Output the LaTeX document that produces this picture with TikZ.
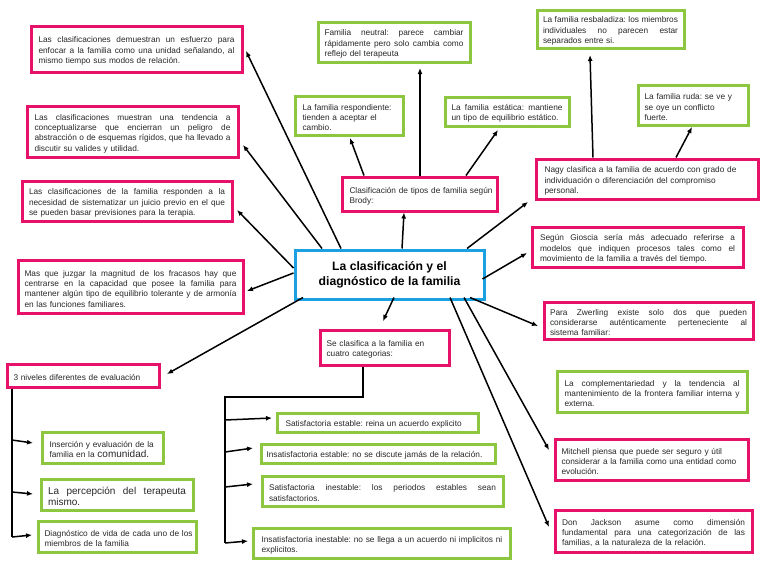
\documentclass[tikz,border=0pt]{standalone}
\usepackage{fontspec}
\setmainfont{Liberation Sans}
\usetikzlibrary{calc,arrows.meta}
\definecolor{pinkc}{RGB}{232,17,106}
\definecolor{greenc}{RGB}{141,198,63}
\definecolor{bluec}{RGB}{27,161,226}
\definecolor{txtc}{RGB}{40,40,40}
\frenchspacing
\newcommand\Jline[1]{\par\noindent\hbox to\hsize{\spaceskip=0.278em plus 1fil minus 0.04em\relax\xspaceskip=\spaceskip #1}\par}
\newcommand\Rline[1]{\par\noindent\hbox{#1}\par}
\tikzset{
 boxbase/.style={rectangle, anchor=north west, line width=3pt, fill=white, text=txtc, inner ysep=1pt, font=\fontsize{8.3}{10.3}\selectfont},
 pbox/.style={boxbase, draw=pinkc},
 gbox/.style={boxbase, draw=greenc},
 cbox/.style={boxbase, draw=bluec, text=black, align=center, font=\bfseries\fontsize{12.2}{15}\selectfont},
 arr/.style={line width=1.5pt, -{Latex[length=6pt,width=5pt]}, black},
 trunk/.style={line width=1.6pt, black},
}
\begin{document}
\begin{tikzpicture}[x=1pt,y=-1pt]
\fill[white] (0,0) rectangle (768,574);
\useasboundingbox (0,0) rectangle (768,574);

% centre
\node[cbox, minimum width=189pt, minimum height=49pt] (c) at (293.5,248.5) {La clasificación y el\\diagnóstico de la familia};

% left pink boxes
\node[pbox, text width=196pt, inner xsep=7.5pt, minimum height=46pt] (b1) at (29.5,24.5) {%
\Jline{Las clasificaciones demuestran un esfuerzo para}
\Jline{enfocar a la familia como una unidad señalando, al}
\Rline{mismo tiempo sus modos de relación.}};
\node[pbox, text width=196pt, inner xsep=7.5pt, minimum height=51pt] (b2) at (25.5,104.5) {%
\Jline{Las clasificaciones muestran una tendencia a}
\Jline{conceptualizarse que encierran un peligro de}
\Jline{abstracción o de esquemas rígidos, que ha llevado a}
\Rline{discutir su valides y utilidad.}};
\node[pbox, text width=196pt, inner xsep=7pt, minimum height=40pt] (b3) at (20.5,179.5) {%
\Jline{Las clasificaciones de la familia responden a la}
\Jline{necesidad de sistematizar un juicio previo en el que}
\Rline{se pueden basar previsiones para la terapia.}};
\node[pbox, text width=212pt, inner xsep=6.5pt, minimum height=53pt] (b4) at (16.5,258.5) {%
\Jline{Mas que juzgar la magnitud de los fracasos hay que}
\Jline{centrarse en la capacidad que posee la familia para}
\Jline{mantener algún tipo de equilibrio tolerante y de armonía}
\Rline{en las funciones familiares.}};
\node[pbox, text width=139pt, inner xsep=6.5pt, minimum height=23pt] (b5) at (5.5,362.5) {%
\Rline{3 niveles diferentes de evaluación}};

% three levels
\node[gbox, text width=106pt, inner xsep=7.5pt, minimum height=31pt] (g6) at (40.5,430.5) {%
\Rline{Inserción y evaluación de la}
\Rline{familia en la {\fontsize{10}{11}\selectfont comunidad.}}};
\node[gbox, text width=138pt, inner xsep=7pt, minimum height=31pt, font=\fontsize{10}{11.5}\selectfont] (g7) at (39.5,477.5) {%
\Jline{La percepción del terapeuta}
\Rline{mismo.}};
\node[gbox, text width=145pt, inner xsep=6.5pt, minimum height=31pt] (g8) at (36.5,519.5) {%
\Rline{Diagnóstico de vida de cada uno de los}
\Rline{miembros de la familia}};

% four categories
\node[pbox, text width=116pt, inner xsep=6.5pt, minimum height=35pt] (p25) at (318.5,328.5) {%
\Rline{Se clasifica a la familia en}
\Rline{cuatro categorias:}};
\node[gbox, text width=184pt, inner xsep=8.5pt, minimum height=19pt] (g9) at (275.5,411.5) {%
\Rline{Satisfactoria estable: reina un acuerdo explicito}};
\node[gbox, text width=223pt, inner xsep=5.5pt, minimum height=19pt] (g10) at (259.5,442.5) {%
\Rline{Insatisfactoria estable: no se discute jamás de la relación.}};
\node[gbox, text width=227pt, inner xsep=7pt, minimum height=30pt] (g11) at (260.5,474.5) {%
\Jline{Satisfactoria inestable: los periodos estables sean}
\Rline{satisfactorios.}};
\node[gbox, text width=240pt, inner xsep=8.5pt, minimum height=30pt] (g12) at (251.5,526.5) {%
\Rline{Insatisfactoria inestable: no se llega a un acuerdo ni implicitos ni}
\Rline{explicitos.}};

% Brody
\node[gbox, text width=139pt, inner xsep=6.5pt, minimum height=40pt] (g13) at (316.5,20.5) {%
\Jline{Familia neutral: parece cambiar}
\Jline{rápidamente pero solo cambia como}
\Rline{reflejo del terapeuta}};
\node[gbox, text width=93pt, inner xsep=7.5pt, minimum height=39pt] (g14) at (293.5,94.5) {%
\Rline{La familia respondiente:}
\Rline{tienden a aceptar el}
\Rline{cambio.}};
\node[gbox, text width=111pt, inner xsep=6.5pt, minimum height=29pt] (g15) at (443.5,95.5) {%
\Jline{La familia estática: mantiene}
\Rline{un tipo de equilibrio estático.}};
\node[pbox, text width=140pt, inner xsep=7.5pt, minimum height=34pt] (p16) at (340.5,175.5) {%
\Rline{Clasificación de tipos de familia según}
\Rline{Brody:}};

% Nagy
\node[gbox, text width=135pt, inner xsep=6pt, minimum height=38pt] (g17) at (535.5,8.5) {%
\Jline{La familia resbaladiza: los miembros}
\Jline{individuales no parecen estar}
\Rline{separados entre si.}};
\node[gbox, text width=97pt, inner xsep=6.5pt, minimum height=40pt] (g18) at (636.5,83.5) {%
\Rline{La familia ruda: se ve y}
\Rline{se oye un conflicto}
\Rline{fuerte.}};
\node[pbox, text width=205pt, inner xsep=8.5pt, minimum height=40pt] (p19) at (534.5,157.5) {%
\Rline{Nagy clasifica a la familia de acuerdo con grado de}
\Rline{individuación o diferenciación del compromiso}
\Rline{personal.}};

% right column
\node[pbox, text width=195pt, inner xsep=8pt, minimum height=40pt] (p20) at (530.5,225.5) {%
\Jline{Según Gioscia sería más adecuado referirse a}
\Jline{modelos que indiquen procesos tales como el}
\Rline{movimiento de la familia a través del tiempo.}};
\node[pbox, text width=197pt, inner xsep=6pt, minimum height=37pt] (p21) at (542.5,300.5) {%
\Jline{Para Zwerling existe solo dos que pueden}
\Jline{considerarse auténticamente perteneciente al}
\Rline{sistema familiar:}};
\node[gbox, text width=175pt, inner xsep=7.5pt, minimum height=41pt] (g22) at (555.5,369.5) {%
\Jline{La complementariedad y la tendencia al}
\Jline{mantenimiento de la frontera familiar interna y}
\Rline{externa.}};
\node[pbox, text width=180pt, inner xsep=6.5pt, minimum height=41pt] (p23) at (553.5,437.5) {%
\Rline{Mitchell piensa que puede ser seguro y útil}
\Rline{considerar a la familia como una entidad como}
\Rline{evolución.}};
\node[pbox, text width=183pt, inner xsep=7pt, minimum height=42pt] (p24) at (553.5,508.5) {%
\Jline{Don Jackson asume como dimensión}
\Jline{fundamental para una categorización de las}
\Rline{familias, a la naturaleza de la relación.}};

% connectors from centre
\draw[arr] ($(c.north west)+(47.5,0)$) -- ($(b1.north west)+(216.5,26.5)$);
\draw[arr] ($(c.north west)+(28.5,0)$) -- ($(b2.north west)+(217.5,40.5)$);
\draw[arr] ($(c.north west)+(0,19.5)$) -- ($(b3.north west)+(216.5,30.5)$);
\draw[arr] ($(c.north west)+(0,24.5)$) -- ($(b4.north west)+(230.5,32.5)$);
\draw[arr] ($(c.north west)+(9.5,49)$) -- ($(b5.north west)+(161.5,11.5)$);
\draw[arr] ($(c.north west)+(100.5,49)$) -- ($(p25.north west)+(64.5,-7.5)$);
\draw[arr] ($(c.north west)+(108.5,0)$) -- ($(p16.north west)+(63.5,37)$);
\draw[arr] ($(c.north west)+(173.5,0)$) -- ($(p19.north west)+(-6.5,44.5)$);
\draw[arr] ($(c.north west)+(189,30.5)$) -- ($(p20.north west)+(-3.5,27.5)$);
\draw[arr] ($(c.north west)+(176.5,49)$) -- ($(p21.north west)+(-4.5,25.5)$);
\draw[arr] ($(c.north west)+(170.5,49)$) -- ($(p23.north west)+(-4.5,12.5)$);
\draw[arr] ($(c.north west)+(156.5,49)$) -- ($(p24.north west)+(-4.5,18.5)$);

% Brody branches
\draw[arr] ($(p16.north west)+(79.5,0)$) -- ($(g13.north west)+(103.5,47.5)$);
\draw[arr] ($(p16.north west)+(23.5,0)$) -- ($(g14.north west)+(56.5,43.5)$);
\draw[arr] ($(p16.north west)+(125.5,0)$) -- ($(g15.north west)+(54.5,34.5)$);

% Nagy branches
\draw[arr] ($(p19.north west)+(58.5,0)$) -- ($(g17.north west)+(54.5,46.5)$);
\draw[arr] ($(p19.north west)+(141.5,0)$) -- ($(g18.north west)+(55.5,43.5)$);

% four categories tree
\coordinate (k1) at (363,397);
\coordinate (k2) at (225,397);
\coordinate (k3) at (225,543);
\coordinate (k9) at (225,420);
\coordinate (k10) at (225,452);
\coordinate (k11) at (225,487);
\draw[trunk] ($(p25.south west)+(44.5,0)$) -- (k1) -- (k2) -- (k3);
\draw[arr] (k9) -- ($(g9.north west)+(-3.5,6.5)$);
\draw[arr] (k10) -- ($(g10.north west)+(-6.5,5.5)$);
\draw[arr] (k11) -- ($(g11.north west)+(-7.5,9.5)$);
\draw[arr] (k3) -- ($(g12.north west)+(-3.5,14.5)$);

% three levels tree
\coordinate (s8) at (12,537);
\coordinate (s6) at (12,440);
\coordinate (s7) at (12,492);
\draw[trunk] ($(b5.south west)+(6.5,0)$) -- (s8);
\draw[arr] (s6) -- ($(g6.north west)+(-7.5,12.5)$);
\draw[arr] (s7) -- ($(g7.north west)+(-6.5,16.5)$);
\draw[arr] (s8) -- ($(g8.north west)+(-4.5,15.5)$);
\end{tikzpicture}
\end{document}
